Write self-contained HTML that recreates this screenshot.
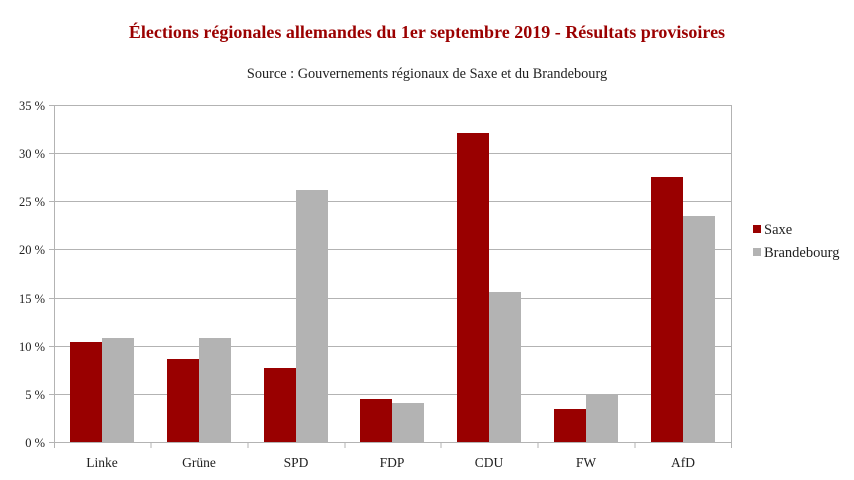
<!DOCTYPE html>
<html><head><meta charset="utf-8"><style>
body{margin:0;background:#fff}
svg{display:block;font-family:"Liberation Serif",serif}
</style></head><body>
<svg width="854" height="480" xmlns="http://www.w3.org/2000/svg">
<text x="427" y="38" text-anchor="middle" font-size="18" font-weight="bold" fill="#9b0000">Élections régionales allemandes du 1er septembre 2019 - Résultats provisoires</text>
<text x="427" y="78" text-anchor="middle" font-size="14.3" fill="#222">Source : Gouvernements régionaux de Saxe et du Brandebourg</text>
<g stroke="#b3b3b3" stroke-width="1">
<line x1="54" y1="105.5" x2="732" y2="105.5"/>
<line x1="54" y1="153.5" x2="732" y2="153.5"/>
<line x1="54" y1="201.5" x2="732" y2="201.5"/>
<line x1="54" y1="249.5" x2="732" y2="249.5"/>
<line x1="54" y1="298.5" x2="732" y2="298.5"/>
<line x1="54" y1="346.5" x2="732" y2="346.5"/>
<line x1="54" y1="394.5" x2="732" y2="394.5"/>
<line x1="731.5" y1="105" x2="731.5" y2="442"/>
<line x1="49" y1="105.5" x2="54" y2="105.5"/>
<line x1="49" y1="153.5" x2="54" y2="153.5"/>
<line x1="49" y1="201.5" x2="54" y2="201.5"/>
<line x1="49" y1="249.5" x2="54" y2="249.5"/>
<line x1="49" y1="298.5" x2="54" y2="298.5"/>
<line x1="49" y1="346.5" x2="54" y2="346.5"/>
<line x1="49" y1="394.5" x2="54" y2="394.5"/>
<line x1="49" y1="442.5" x2="54" y2="442.5"/>
</g>
<g fill="#990000">
<rect x="70" y="342" width="32" height="100"/>
<rect x="167" y="359" width="32" height="83"/>
<rect x="264" y="368" width="32" height="74"/>
<rect x="360" y="399" width="32" height="43"/>
<rect x="457" y="133" width="32" height="309"/>
<rect x="554" y="409" width="32" height="33"/>
<rect x="651" y="177" width="32" height="265"/>
</g>
<g fill="#b3b3b3">
<rect x="102" y="338" width="32" height="104"/>
<rect x="199" y="338" width="32" height="104"/>
<rect x="296" y="190" width="32" height="252"/>
<rect x="392" y="403" width="32" height="39"/>
<rect x="489" y="292" width="32" height="150"/>
<rect x="586" y="394" width="32" height="48"/>
<rect x="683" y="216" width="32" height="226"/>
</g>
<g stroke="#b3b3b3" stroke-width="1">
<line x1="54.5" y1="105" x2="54.5" y2="448"/>
<line x1="54" y1="442.5" x2="732" y2="442.5"/>
<line x1="151" y1="442" x2="151" y2="448"/>
<line x1="248" y1="442" x2="248" y2="448"/>
<line x1="345" y1="442" x2="345" y2="448"/>
<line x1="441" y1="442" x2="441" y2="448"/>
<line x1="538" y1="442" x2="538" y2="448"/>
<line x1="635" y1="442" x2="635" y2="448"/>
<line x1="731.5" y1="442" x2="731.5" y2="448"/>
</g>
<g font-size="12.5" fill="#222" text-anchor="end">
<text x="45" y="110">35 %</text>
<text x="45" y="158">30 %</text>
<text x="45" y="206">25 %</text>
<text x="45" y="254">20 %</text>
<text x="45" y="303">15 %</text>
<text x="45" y="351">10 %</text>
<text x="45" y="399">5 %</text>
<text x="45" y="447">0 %</text>
</g>
<g font-size="13.5" fill="#222" text-anchor="middle">
<text x="102" y="467">Linke</text>
<text x="199" y="467">Grüne</text>
<text x="296" y="467">SPD</text>
<text x="392" y="467">FDP</text>
<text x="489" y="467">CDU</text>
<text x="586" y="467">FW</text>
<text x="683" y="467">AfD</text>
</g>
<rect x="753" y="225" width="8" height="8" fill="#990000"/>
<rect x="753" y="248" width="8" height="8" fill="#b3b3b3"/>
<text x="764" y="234" font-size="14.5" fill="#222">Saxe</text>
<text x="764" y="257" font-size="14.5" fill="#222">Brandebourg</text>
</svg>
</body></html>
